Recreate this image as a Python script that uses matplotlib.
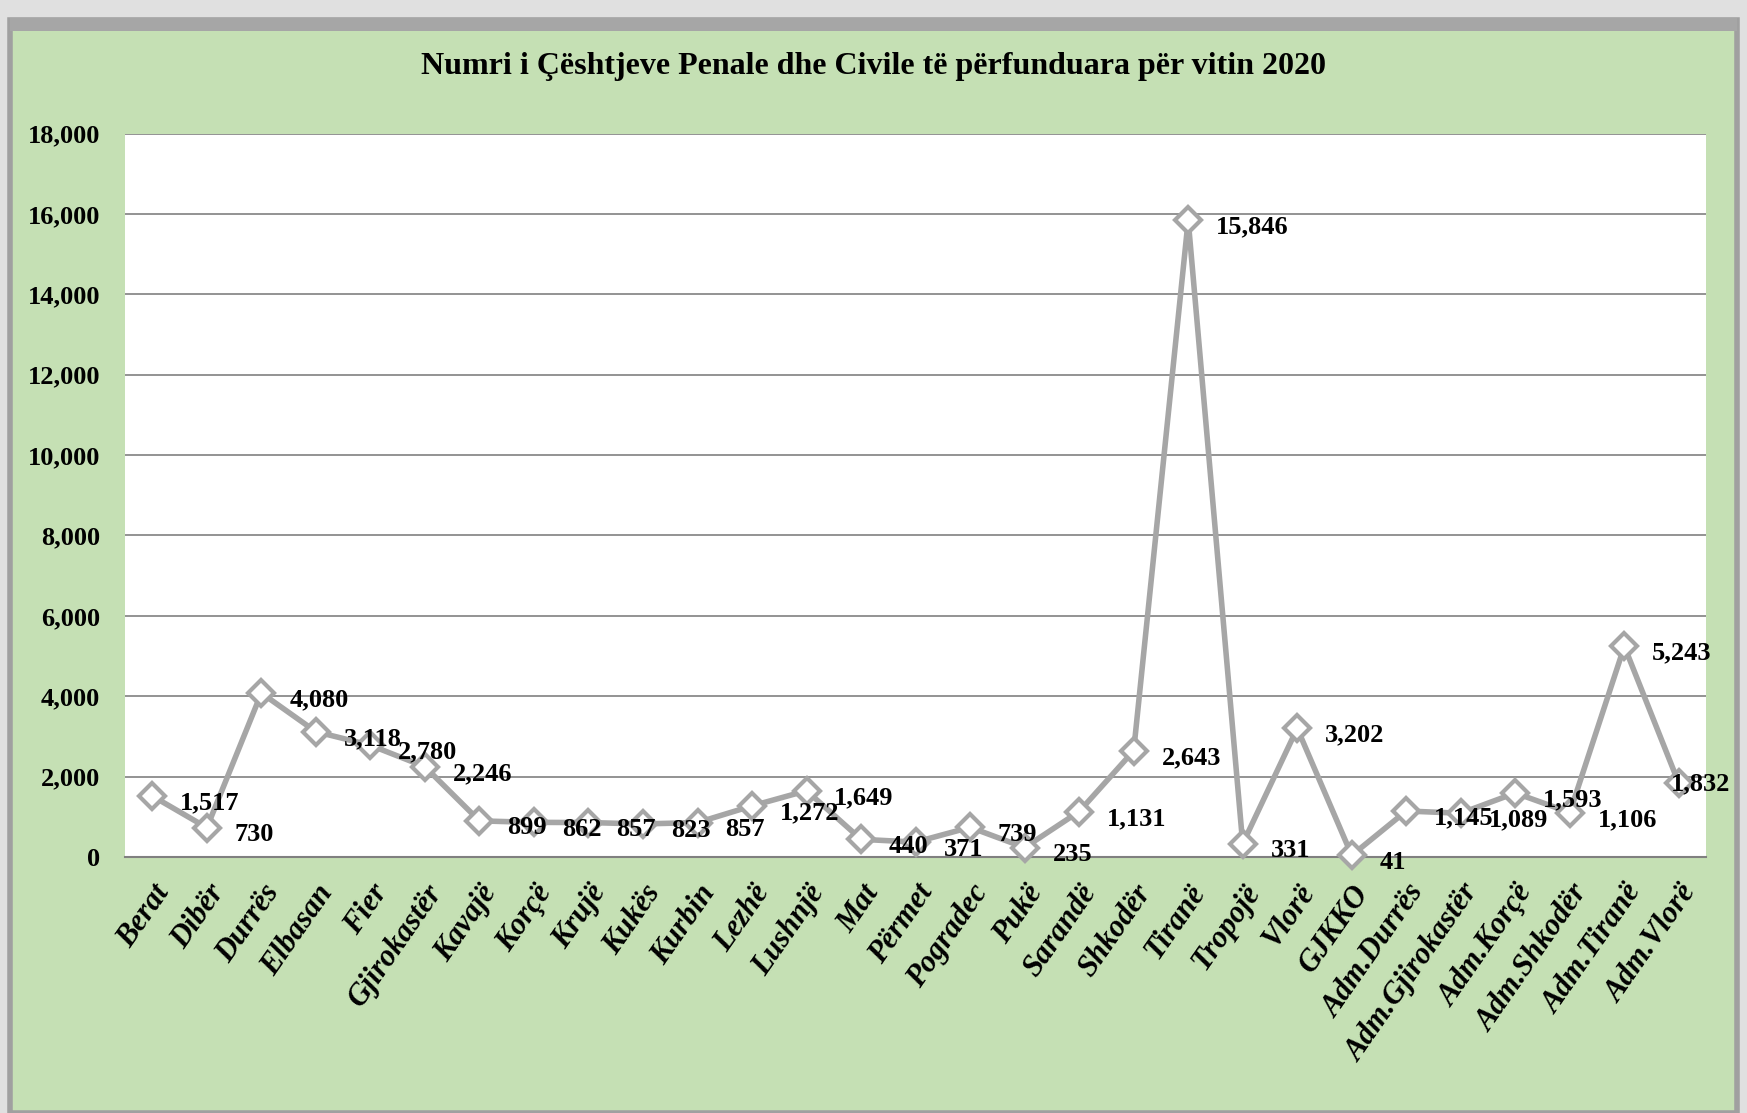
import matplotlib.pyplot as plt
from matplotlib.patches import Rectangle
from matplotlib.ticker import FuncFormatter

courts = ["Berat", "Dibër", "Durrës", "Elbasan", "Fier", "Gjirokastër", "Kavajë",
          "Korçë", "Krujë", "Kukës", "Kurbin", "Lezhë", "Lushnjë", "Mat", "Përmet",
          "Pogradec", "Pukë", "Sarandë", "Shkodër", "Tiranë", "Tropojë", "Vlorë",
          "GJKKO", "Adm.Durrës", "Adm.Gjirokastër", "Adm.Korçë", "Adm.Shkodër",
          "Adm.Tiranë", "Adm.Vlorë"]
cases = [1517, 730, 4080, 3118, 2780, 2246, 899, 862, 857, 823, 857, 1272, 1649,
         440, 371, 739, 235, 1131, 2643, 15846, 331, 3202, 41, 1145, 1089, 1593,
         1106, 5243, 1832]

font = "Liberation Serif"
grey = "#A6A6A6"

fig = plt.figure(figsize=(17.47, 11.13), dpi=100)
fig.patch.set_facecolor("#E0E0E0")
# green chart area with grey frame (behind the axes)
fig.patches.append(Rectangle((0.006, 0.0), 0.988, 0.982, transform=fig.transFigure,
                             facecolor="#C5E0B4", edgecolor="#A0A0A0", linewidth=4,
                             zorder=-2))
fig.patches.append(Rectangle((0.006, 0.972), 0.988, 0.012, transform=fig.transFigure,
                             facecolor="#A6A6A6", edgecolor="none", zorder=-1))

ax = fig.add_axes([0.0716, 0.23, 0.905, 0.65])
ax.set_facecolor("white")
x = list(range(len(courts)))
ax.plot(x, cases, color=grey, lw=4, marker="D", ms=13, mfc="white", mec=grey, mew=3,
        clip_on=False, zorder=3)

for i, v in enumerate(cases):
    # last label sits on its marker so it stays inside the chart
    off = (20, -5) if i < len(cases) - 1 else (-6, 0)
    ax.annotate(f"{v:,}", (i, v), xytext=off, textcoords="offset points",
                ha="left", va="center", fontsize=19, fontweight="bold",
                family=font, zorder=4)

ax.set_xlim(-0.5, len(courts) - 0.5)
ax.set_ylim(0, 18000)
ax.set_yticks(range(0, 18001, 2000))
ax.yaxis.set_major_formatter(FuncFormatter(lambda v, p: f"{int(v):,}"))
ax.grid(axis="y", color="#808080", lw=1.2)
ax.set_axisbelow(True)
for s in ["top", "right", "left"]:
    ax.spines[s].set_visible(False)
ax.spines["bottom"].set_color("#808080")
ax.spines["bottom"].set_linewidth(1.5)
ax.tick_params(axis="both", length=0)
ax.tick_params(axis="y", pad=18)
ax.tick_params(axis="x", pad=16)

ax.set_xticks(x)
ax.set_xticklabels(courts, rotation=55, ha="right", rotation_mode="anchor",
                   fontsize=22, fontweight="bold", fontstyle="italic", family=font)
for lab in ax.get_yticklabels():
    lab.set_fontsize(19)
    lab.set_fontweight("bold")
    lab.set_family(font)

fig.text(0.5, 0.94, "Numri i Çështjeve Penale dhe Civile të përfunduara për vitin 2020",
         ha="center", va="center", fontsize=23, fontweight="bold", family=font)

fig.savefig("out.png", dpi=100, facecolor=fig.get_facecolor())
